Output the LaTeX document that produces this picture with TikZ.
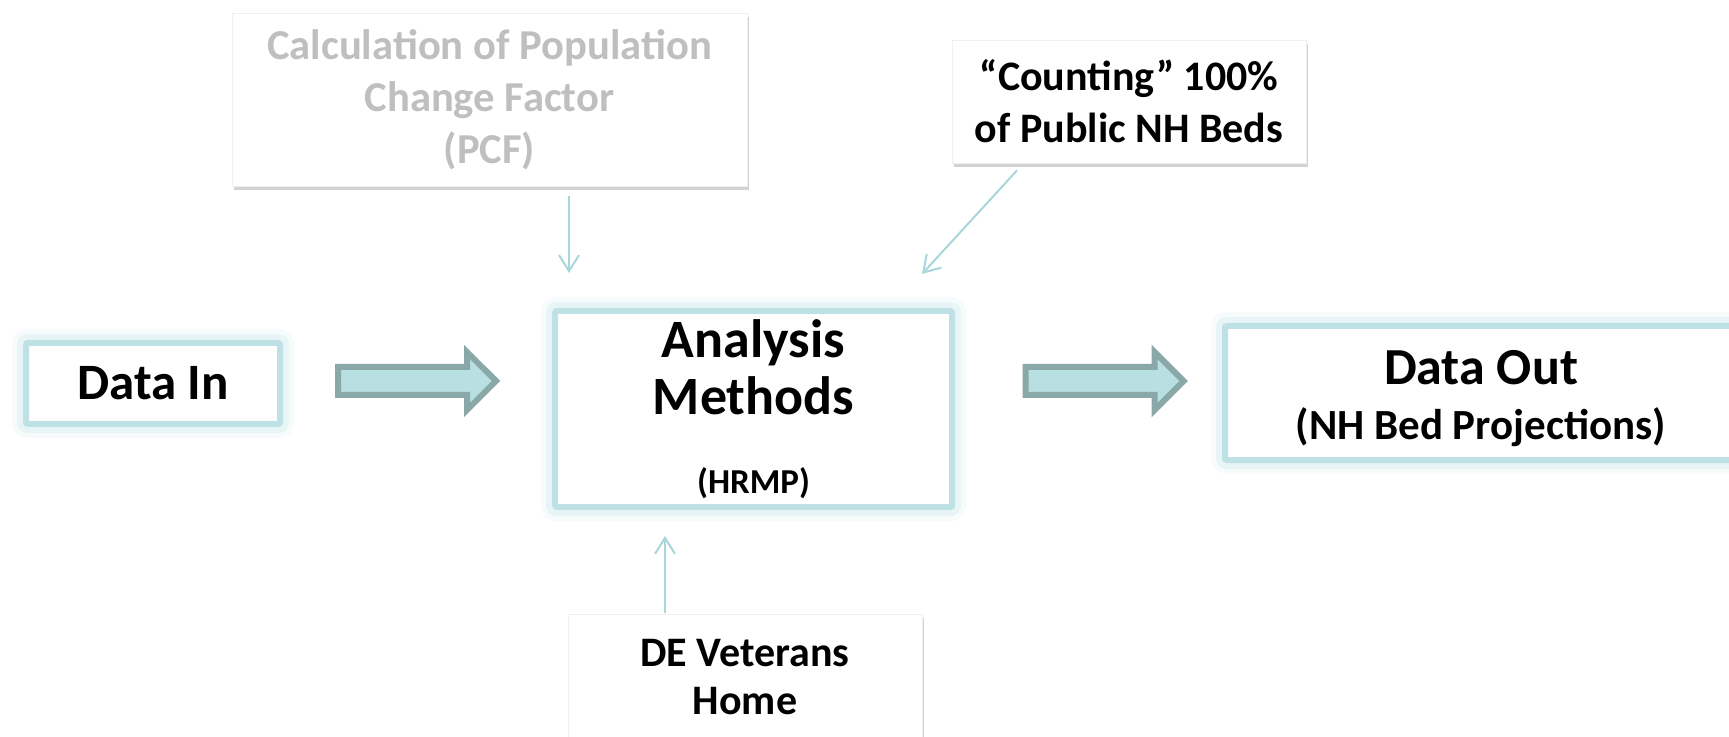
\documentclass[tikz,border=0pt]{standalone}
\usepackage{fontspec}
\setmainfont{Carlito}
\usetikzlibrary{calc,shapes.arrows,shadows,arrows.meta}

\definecolor{boxteal}{HTML}{BDE1E4}
\definecolor{arrowfill}{HTML}{B8DFE2}
\definecolor{arrowedge}{HTML}{8BA8A9}
\definecolor{linkteal}{HTML}{A9D6DA}
\definecolor{greytext}{HTML}{BFBFBF}

\begin{document}
\begin{tikzpicture}[x=0.5pt,y=-0.5pt,
    mainbox/.style={rectangle, draw=boxteal, line width=3pt, fill=white, rounded corners=1pt, align=center,
        preaction={draw=boxteal, line width=14pt, opacity=0.12},
        preaction={draw=boxteal, line width=9pt, opacity=0.25}},
    sidebox/.style={rectangle, draw=black!6, line width=0.4pt, fill=white, align=center,
        drop shadow={shadow xshift=0.8pt, shadow yshift=-2pt, opacity=0.25, fill=black!70}},
    blockarrow/.style={single arrow, draw=arrowedge, fill=arrowfill, line width=3pt,
        inner xsep=0pt, inner ysep=5.5pt, text height=0pt, text depth=0pt,
        minimum height=79pt, single arrow head extend=7.5pt},
    linkarrow/.style={draw=linkteal, line width=1pt, -{Straight Barb[length=8pt,width=10pt]}},
    bigtext/.style={font=\fontsize{25.5}{28.5}\selectfont\bfseries},
    sidetext/.style={font=\fontsize{21}{26}\selectfont\bfseries}]

    \useasboundingbox (0,0) rectangle (1729,737);

    % Draw nodes
    \node[mainbox, bigtext, minimum width=127pt, minimum height=40.5pt] (datain) at (153,383.5) {Data In};
    \node[mainbox, font=\fontsize{27}{28.5}\selectfont\bfseries, minimum width=198.5pt, minimum height=98pt]
        (analysis) at (753.5,409)
        {Analysis\\Methods\\[11pt]{\fontsize{17.5}{20}\selectfont (HRMP)}};
    \node[mainbox, minimum width=337.5pt, minimum height=67pt] (dataout) at (1562.5,393) {};
    \node[font=\fontsize{26}{27.5}\selectfont\bfseries, align=center] (dataouttext) at (1481,399)
        {Data Out\\{\fontsize{21.5}{24}\selectfont (NH Bed Projections)}};

    \node[sidebox, font=\fontsize{21.3}{26}\selectfont\bfseries, text=greytext, minimum width=257.5pt, minimum height=86.5pt]
        (pcf) at (489.5,99.5) {Calculation of Population\\Change Factor\\(PCF)};
    \node[sidebox, sidetext, minimum width=177pt, minimum height=61.5pt] (counting) at (1129,101.5)
        {“Counting” 100\%\\of Public NH Beds};
    \node[sidebox, font=\fontsize{21}{24}\selectfont\bfseries, minimum width=177pt, minimum height=63pt]
        (veterans) at (745,677) {DE Veterans\\Home};

    % Draw block arrows
    \node[blockarrow] (arrowin) at (410,381) {};
    \node[blockarrow] (arrowout) at (1097.5,381) {};

    % Draw edges
    \draw[linkarrow] ($(pcf.south)+(79.5,10)$) -- ($(analysis.north)+(-184.5,-35)$);
    \draw[linkarrow] ($(counting.south)+(-112,7)$) -- ($(analysis.north)+(168.5,-34)$);
    \draw[linkarrow] ($(veterans.north)+(-80,-1)$) -- ($(analysis.south)+(-88.5,26)$);

\end{tikzpicture}
\end{document}
